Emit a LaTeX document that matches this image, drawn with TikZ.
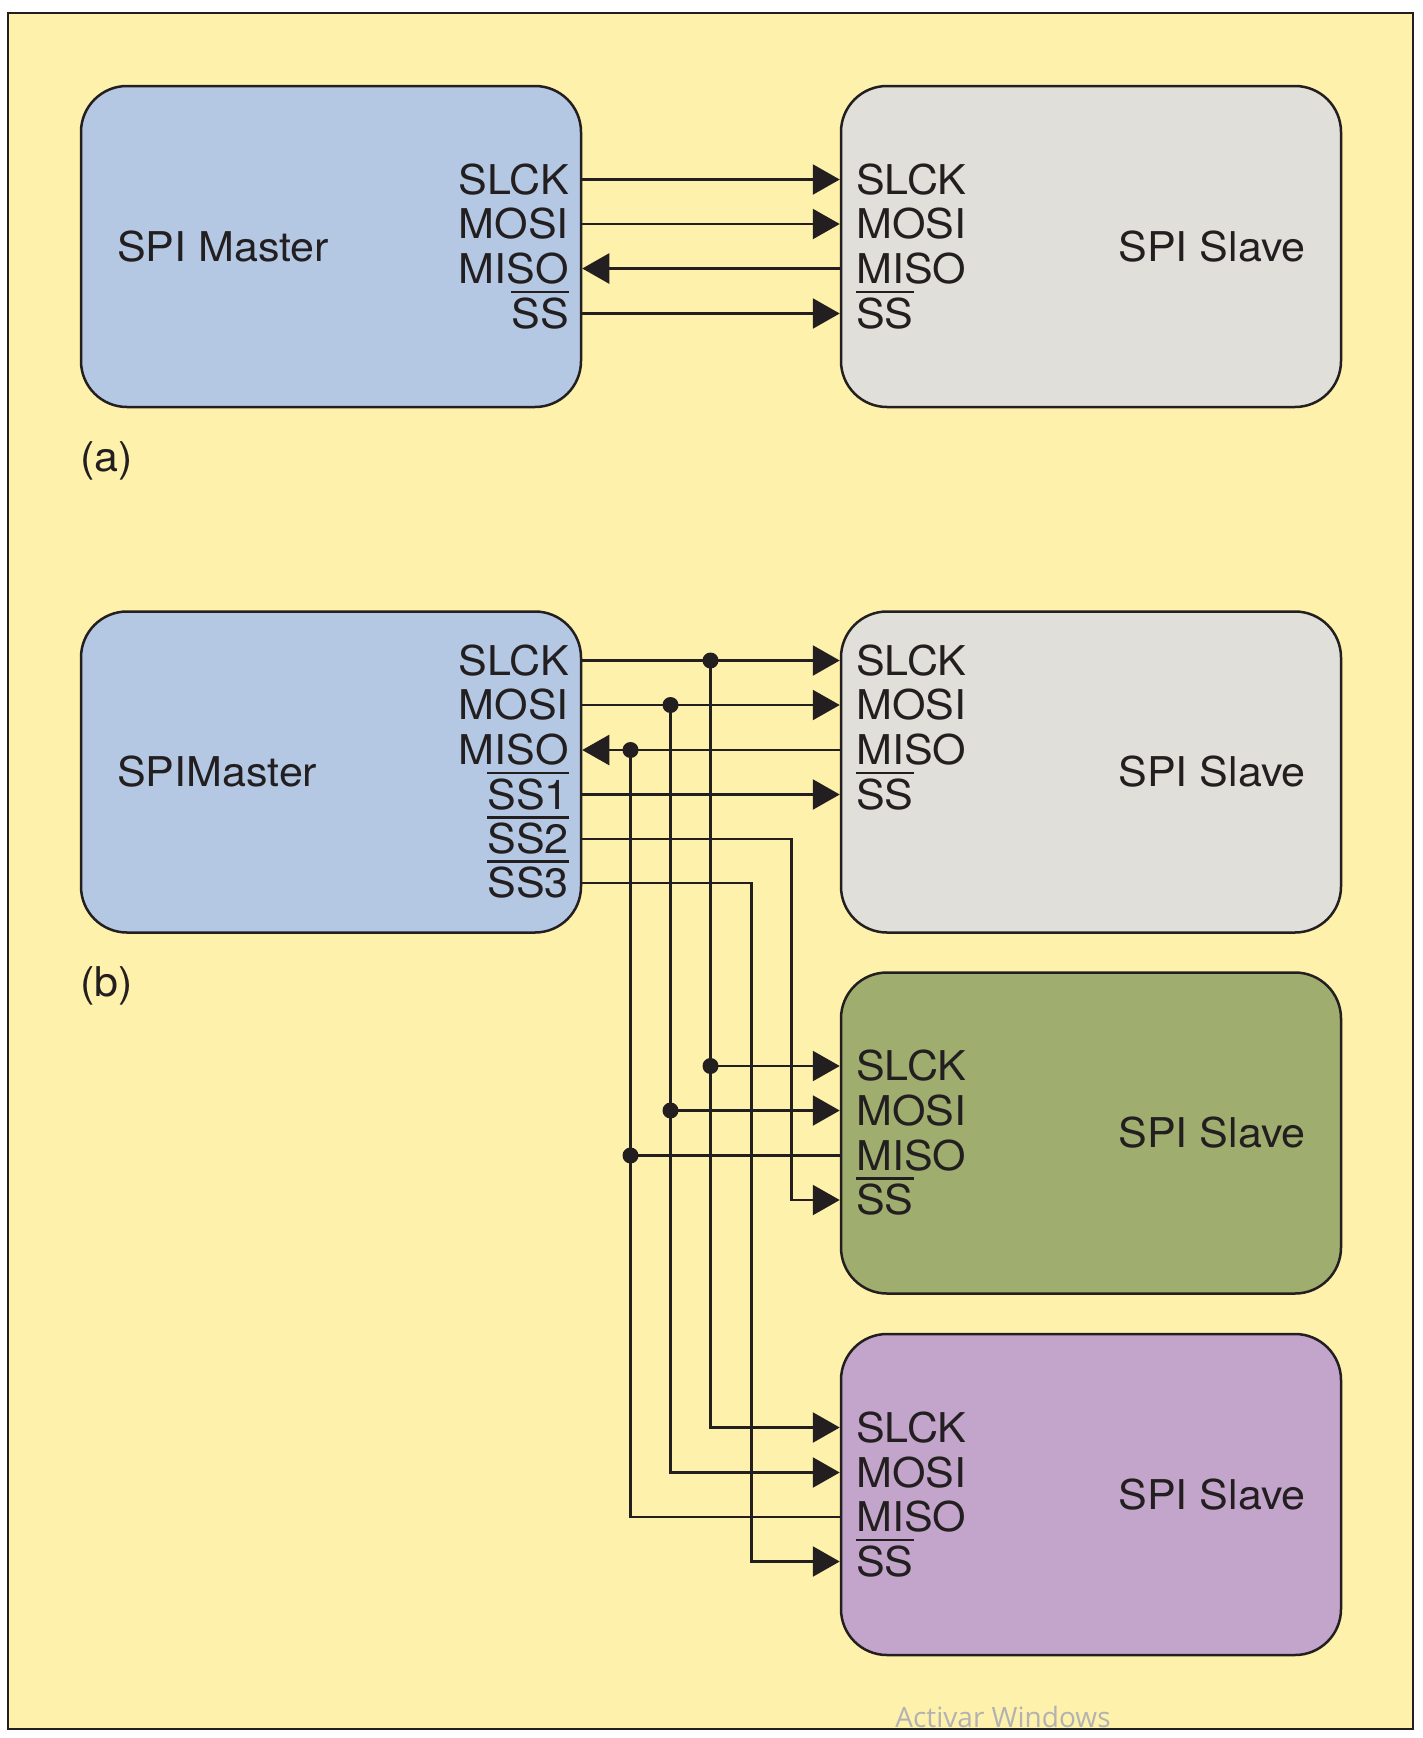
\documentclass[tikz,border=0pt]{standalone}
\usepackage{fontspec}
\setmainfont{TeX Gyre Heros}[FakeStretch=1.05]
\newfontfamily\wmfont{Open Sans}
\usetikzlibrary{arrows.meta,calc}
\definecolor{bg}{HTML}{FEF1AB}
\definecolor{ink}{HTML}{231F20}
\definecolor{mblue}{HTML}{B4C8E4}
\definecolor{sgrey}{HTML}{E0DFD9}
\definecolor{sgreen}{HTML}{9FAD6E}
\definecolor{spurple}{HTML}{C3A5CB}
\newlength\ovlh
\newcommand\ovl[1]{\setbox0=\hbox{#1}\setlength\ovlh{\ht0}\addtolength\ovlh{4.5pt}\rlap{\rule[\ovlh]{\wd0}{2.2pt}}\box0}
\begin{document}
\begin{tikzpicture}[x=1pt,y=-1pt,
  box/.style={draw=ink, line width=2.5pt, rounded corners=46pt, minimum width=500pt, minimum height=321pt, inner sep=0pt},
  wire/.style={draw=ink, line width=2.5pt},
  arr/.style={wire, -{Triangle[length=27pt,width=30pt]}},
  lbl/.style={font=\fontsize{41}{41}\selectfont, text=ink, inner sep=0pt, text height=29.5pt, text depth=0pt},
  mlbl/.style={lbl, anchor=east},
  slbl/.style={lbl, anchor=west},
  dot/.style={circle, fill=ink, inner sep=0pt, minimum size=16pt}]
\useasboundingbox (0,0) rectangle (1423,1738);
\fill[white] (0,0) rectangle (1423,1738);
\draw[fill=bg, draw=ink, line width=2.5pt] (8,13) rectangle (1413,1729);

% boxes
\node[box, fill=mblue] (mA) at (331,246.5) {};
\node[box, fill=sgrey] (sA) at (1091,246.5) {};
\node[box, fill=mblue] (mB) at (331,772) {};
\node[box, fill=sgrey] (s1) at (1091,772) {};
\node[box, fill=sgreen] (s2) at (1091,1133) {};
\node[box, fill=spurple] (s3) at (1091,1494.5) {};

% titles
\node[lbl, anchor=west] (tA) at (117,246.5) {SPI Master};
\node[lbl, anchor=east] (tsA) at (1306,246.5) {SPI Slave};
\node[lbl, anchor=west] (tB) at (117,772) {SPIMaster};
\node[lbl, anchor=east] (ts1) at (1306,772) {SPI Slave};
\node[lbl, anchor=east] (ts2) at (1306,1133) {SPI Slave};
\node[lbl, anchor=east] (ts3) at (1306,1494.5) {SPI Slave};
\node[lbl, anchor=west] (capa) at (80,457) {(a)};
\node[lbl, anchor=west] (capb) at (80,982) {(b)};

% (a) labels
\node[mlbl] (mA1) at (569,179.5) {SLCK};
\node[mlbl] (mA2) at (569,224) {MOSI};
\node[mlbl] (mA3) at (569,268.5) {MISO};
\node[mlbl] (mA4) at (569,313.5) {\ovl{SS}};
\node[slbl] (sA1) at (856,179.5) {SLCK};
\node[slbl] (sA2) at (856,224) {MOSI};
\node[slbl] (sA3) at (856,268.5) {MISO};
\node[slbl] (sA4) at (856,313.5) {\ovl{SS}};

% (a) wires
\draw[arr] (mA.east |- mA1) -- (sA.west |- mA1);
\draw[arr] (mA.east |- mA2) -- (sA.west |- mA2);
\draw[arr] (sA.west |- mA3) -- (mA.east |- mA3);
\draw[arr] (mA.east |- mA4) -- (sA.west |- mA4);

% (b) master labels
\node[mlbl] (mB1) at (569,660.5) {SLCK};
\node[mlbl] (mB2) at (569,705) {MOSI};
\node[mlbl] (mB3) at (569,750) {MISO};
\node[mlbl] (mB4) at (569,794.5) {\ovl{SS1}};
\node[mlbl] (mB5) at (569,839) {\ovl{SS2}};
\node[mlbl] (mB6) at (569,883) {\ovl{SS3}};
% slave labels
\node[slbl] (s11) at (856,660.5) {SLCK};
\node[slbl] (s12) at (856,705) {MOSI};
\node[slbl] (s13) at (856,750) {MISO};
\node[slbl] (s14) at (856,794.5) {\ovl{SS}};
\node[slbl] (s21) at (856,1066) {SLCK};
\node[slbl] (s22) at (856,1110.5) {MOSI};
\node[slbl] (s23) at (856,1155.5) {MISO};
\node[slbl] (s24) at (856,1200) {\ovl{SS}};
\node[slbl] (s31) at (856,1427.5) {SLCK};
\node[slbl] (s32) at (856,1472.5) {MOSI};
\node[slbl] (s33) at (856,1517) {MISO};
\node[slbl] (s34) at (856,1561.5) {\ovl{SS}};

% (b) junction points
\coordinate (j1) at (710.5,660.5);
\coordinate (j1b) at (710.5,1066);
\coordinate (j2) at (670.5,705);
\coordinate (j2b) at (670.5,1110.5);
\coordinate (j3) at (630.5,750);
\coordinate (j3b) at (630.5,1155.5);
\coordinate (k5) at (791.5,839);
\coordinate (k6) at (751.5,883);

% (b) wires
\draw[arr] (mB.east |- mB1) -- (s1.west |- mB1);
\draw[arr] (mB.east |- mB2) -- (s1.west |- mB2);
\draw[arr] (s1.west |- mB3) -- (mB.east |- mB3);
\draw[arr] (mB.east |- mB4) -- (s1.west |- mB4);
\draw[arr] (mB.east |- mB5) -- (k5) |- (s2.west |- s24);
\draw[arr] (mB.east |- mB6) -- (k6) |- (s3.west |- s34);

\draw[arr] (j1) |- (s3.west |- s31);
\draw[arr] (j1b) -- (s2.west |- s21);
\draw[arr] (j2) |- (s3.west |- s32);
\draw[arr] (j2b) -- (s2.west |- s22);
\draw[wire] (j3) |- (s3.west |- s33);
\draw[wire] (j3b) -- (s2.west |- s23);

\node[dot] (d1) at (j1) {};
\node[dot] (d1b) at (j1b) {};
\node[dot] (d2) at (j2) {};
\node[dot] (d2b) at (j2b) {};
\node[dot] (d3) at (j3) {};
\node[dot] (d3b) at (j3b) {};

% watermark
\node[font=\wmfont\fontsize{28}{28}\selectfont, text=black!30, anchor=base, inner sep=0pt] (wm) at (1003,1727) {Activar Windows};
\end{tikzpicture}
\end{document}
